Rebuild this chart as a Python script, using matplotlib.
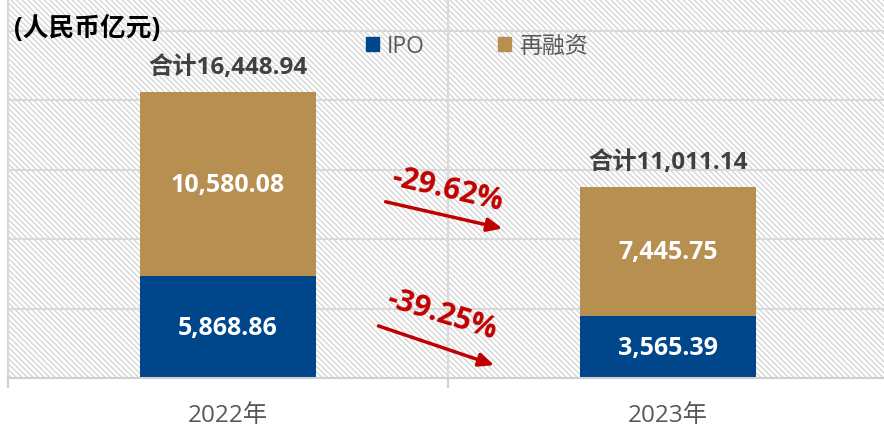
import matplotlib
matplotlib.use('Agg')
import matplotlib.pyplot as plt
from matplotlib.patches import Rectangle, Patch

plt.rcParams['font.family'] = ['Open Sans', 'Noto Sans CJK SC', 'DejaVu Sans']
plt.rcParams['hatch.linewidth'] = 1.0

# data
years = ['2022年', '2023年']
ipo = [5868.86, 3565.39]
refinance = [10580.08, 7445.75]
totals = [16448.94, 11011.14]
changes = ['-29.62%', '-39.25%']

blue = '#00468B'
gold = '#B78F50'
red = '#C00000'
grey = '#595959'

fig = plt.figure(figsize=(8.84, 4.31), dpi=100)
ax = fig.add_axes([8 / 884, 52 / 431, 880 / 884, 382 / 431])

# hatched background
ax.add_patch(Rectangle((0, 0), 1, 1, transform=ax.transAxes, facecolor='white',
                       edgecolor='#d6d6d6', hatch='\\' * 6, linewidth=0, zorder=0))

x = range(len(years))
ax.bar(x, ipo, width=0.4, color=blue, zorder=2)
ax.bar(x, refinance, width=0.4, bottom=ipo, color=gold, zorder=2)

# labels in bars
for i in x:
    ax.text(i, ipo[i] / 2, '{:,.2f}'.format(ipo[i]), ha='center', va='center',
            color='white', fontsize=18, fontweight='bold', zorder=3)
    ax.text(i, ipo[i] + refinance[i] / 2, '{:,.2f}'.format(refinance[i]), ha='center',
            va='center', color='white', fontsize=18, fontweight='bold', zorder=3)
    ax.annotate('合计{:,.2f}'.format(totals[i]), (i, totals[i]), xytext=(0, 18),
                textcoords='offset points', ha='center', va='center', color='#404040',
                fontsize=17.5, fontweight='bold')

# change arrows
ax.annotate('', xy=(0.63, 8575), xytext=(0.352, 10186),
            arrowprops=dict(arrowstyle='-|>,head_length=0.9,head_width=0.4', color=red, lw=2.5))
ax.annotate('', xy=(0.611, 690), xytext=(0.336, 3050),
            arrowprops=dict(arrowstyle='-|>,head_length=0.9,head_width=0.4', color=red, lw=2.5))
ax.text(0.498, 10877, changes[0], ha='center', va='center', color=red, fontsize=21.5,
        fontweight='bold', rotation=-13)
ax.text(0.486, 3683, changes[1], ha='center', va='center', color=red, fontsize=21.5,
        fontweight='bold', rotation=-17)

ax.set_xlim(-0.5, 1.5)
ax.set_ylim(0, 22000)
ax.set_yticks(range(0, 22000, 4000))
ax.yaxis.grid(True, color='#d9d9d9', linewidth=1.5)
ax.set_xticks([-0.5, 0.5, 1.5], minor=True)
ax.xaxis.grid(True, which='minor', color='#d9d9d9', linewidth=1.5)
ax.set_axisbelow(True)
ax.set_xticks(list(x))
ax.set_xticklabels(years, fontsize=17.5, color=grey)
ax.tick_params(axis='x', which='major', length=0, pad=18)
ax.tick_params(axis='x', which='minor', length=7, color='#d0d0d0', width=1.5)
ax.tick_params(axis='y', left=False, labelleft=False)
for s in ['top', 'right']:
    ax.spines[s].set_visible(False)
ax.spines['left'].set_color('#d9d9d9')
ax.spines['left'].set_linewidth(1.5)
ax.spines['bottom'].set_color('#d0d0d0')
ax.spines['bottom'].set_linewidth(1.5)

handles = [Patch(color=blue, label='IPO'), Patch(color=gold, label='再融资')]
ax.legend(handles=handles, loc='center', bbox_to_anchor=(0.533, 0.869), ncol=2,
          frameon=False, fontsize=16.5, labelcolor=grey, handlelength=0.55, handleheight=0.55,
          handletextpad=0.35, columnspacing=3.2)

fig.text(14 / 884, 1 - 28 / 431, '(人民币亿元)', ha='left', va='center', fontsize=18.5,
         fontweight='bold', color='black')

fig.savefig('out.png', dpi=100)
